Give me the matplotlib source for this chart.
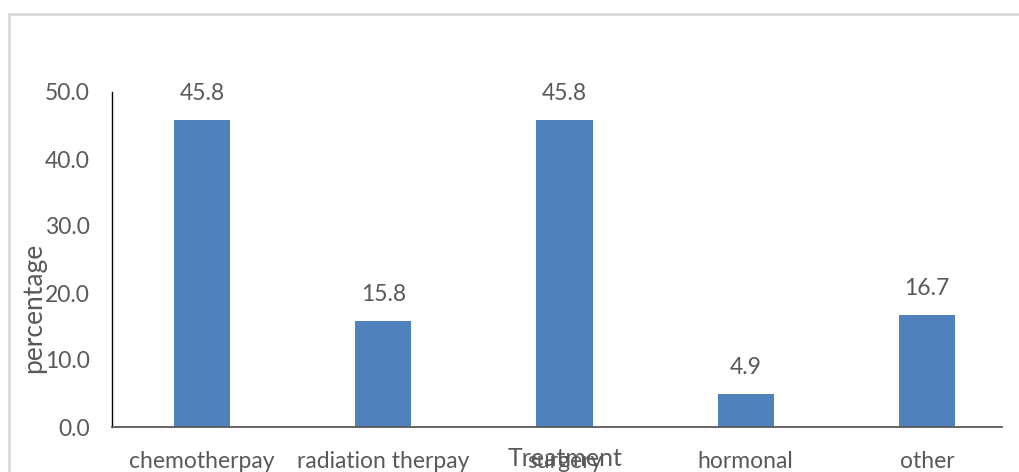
import matplotlib
matplotlib.use("Agg")
import matplotlib.pyplot as plt
from matplotlib.patches import Rectangle

categories = ["chemotherpay", "radiation therpay", "surgery", "hormonal", "other"]
values = [45.8, 15.8, 45.8, 4.9, 16.7]
yticks = [0, 10, 20, 30, 40, 50]

W, H = 1019, 472
fig = plt.figure(figsize=(W / 100, H / 100), dpi=100)
plt.rcParams['font.family'] = ['Lato', 'DejaVu Sans']
txt = "#595959"
fs = 16.5

# outer chart frame
fig.patches.append(Rectangle((9 / W, -0.1), 1.2, (H - 14) / H + 0.1,
                             transform=fig.transFigure, fill=False,
                             edgecolor="#d9d9d9", linewidth=2))

ax = fig.add_axes([112 / W, (H - 427) / H, (1002 - 112) / W, (427 - 92) / H])
x = list(range(len(categories)))
bars = ax.bar(x, values, width=0.31, color="#4f81bd")
ax.set_xlim(-0.497, 4.414)
ax.set_ylim(0, 50)
ax.set_yticks(yticks)
ax.set_yticklabels([f"{v:.1f}" for v in yticks])
ax.set_xticks(x)
ax.set_xticklabels(categories)
ax.tick_params(axis="both", length=0, labelsize=fs, colors=txt)
ax.tick_params(axis="y", pad=16)
ax.tick_params(axis="x", pad=17)

for s in ["top", "right"]:
    ax.spines[s].set_visible(False)
ax.spines["left"].set_color("#000000")
ax.spines["left"].set_linewidth(1)
ax.spines["bottom"].set_color("#595959")
ax.spines["bottom"].set_linewidth(1.3)

for b, v in zip(bars, values):
    ax.annotate(f"{v:.1f}", (b.get_x() + b.get_width() / 2, v),
                xytext=(0, 14.4), textcoords="offset points",
                ha="center", va="baseline", fontsize=fs, color=txt)

fig.text(565 / W, (H - 459) / H, "Treatment", ha="center", va="center",
         fontsize=18, color=txt)
fig.text(34 / W, (H - 308) / H, "percentage", ha="center", va="center",
         rotation=90, fontsize=19, color=txt)

fig.savefig("out.png", dpi=100)
